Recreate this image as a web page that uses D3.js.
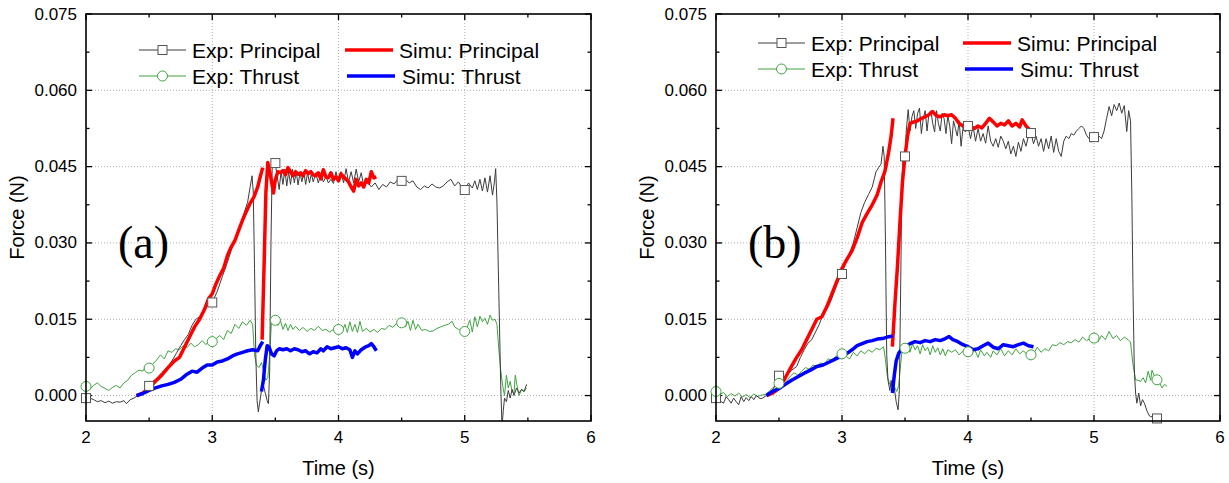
<!DOCTYPE html>
<html>
<head>
<meta charset="utf-8">
<script src="https://cdn.jsdelivr.net/npm/d3@7"></script>
<style>
  body { margin: 0; background: #fff; }
  svg { display: block; }
</style>
</head>
<body>
<svg id="chart" width="1229" height="483"></svg>
<script>
// axis ticks
var xTicks = [2, 3, 4, 5, 6];
var yTicks = [0.000, 0.015, 0.030, 0.045, 0.060, 0.075];
var seriesNames = ["Exp: Principal", "Exp: Thrust", "Simu: Principal", "Simu: Thrust"];

// panel (a): [time s, force N]
var expPrincipalA = [[2.00,-0.0003],[2.03,-0.0005],[2.06,-0.0008],[2.09,-0.0012],[2.12,-0.0010],[2.15,-0.0014],[2.18,-0.0011],[2.21,-0.0015],[2.24,-0.0012],[2.27,-0.0013],[2.30,-0.0010],[2.32,-0.0016],[2.35,-0.0008],[2.38,-0.0005],[2.41,0.0000],[2.44,0.0004],[2.47,0.0012],[2.50,0.0020],[2.53,0.0028],[2.56,0.0034],[2.60,0.0045],[2.63,0.0052],[2.66,0.0060],[2.69,0.0072],[2.72,0.0085],[2.75,0.0098],[2.78,0.0110],[2.81,0.0120],[2.84,0.0138],[2.87,0.0150],[2.90,0.0155],[2.93,0.0165],[2.96,0.0175],[3.00,0.0183],[3.04,0.0205],[3.08,0.0234],[3.12,0.0262],[3.16,0.0293],[3.20,0.0319],[3.23,0.0340],[3.26,0.0365],[3.28,0.0380],[3.30,0.0410],[3.315,0.0432],[3.325,0.0400],[3.335,0.0250],[3.345,0.0080],[3.355,-0.0010],[3.365,-0.0032],[3.375,-0.0015],[3.39,0.0010],[3.405,0.0020],[3.42,0.0005],[3.435,-0.0010],[3.445,-0.0016],[3.455,0.0050],[3.465,0.0300],[3.475,0.0455],[3.49,0.0460],[3.50,0.0455],[3.515,0.0430],[3.53,0.0405],[3.545,0.0440],[3.56,0.0415],[3.575,0.0445],[3.59,0.0412],[3.605,0.0440],[3.62,0.0415],[3.635,0.0445],[3.65,0.0418],[3.665,0.0440],[3.68,0.0414],[3.695,0.0438],[3.71,0.0420],[3.725,0.0440],[3.74,0.0415],[3.755,0.0438],[3.77,0.0418],[3.785,0.0436],[3.80,0.0420],[3.82,0.0438],[3.84,0.0418],[3.86,0.0435],[3.88,0.0420],[3.90,0.0430],[3.92,0.0418],[3.94,0.0425],[3.96,0.0417],[3.98,0.0440],[4.00,0.0420],[4.02,0.0440],[4.04,0.0418],[4.06,0.0446],[4.08,0.0420],[4.10,0.0440],[4.12,0.0418],[4.14,0.0445],[4.16,0.0420],[4.18,0.0438],[4.20,0.0412],[4.23,0.0420],[4.26,0.0410],[4.29,0.0418],[4.32,0.0405],[4.35,0.0415],[4.38,0.0410],[4.41,0.0420],[4.44,0.0416],[4.47,0.0425],[4.50,0.0422],[4.53,0.0425],[4.56,0.0418],[4.59,0.0422],[4.62,0.0410],[4.65,0.0405],[4.68,0.0412],[4.71,0.0408],[4.74,0.0416],[4.77,0.0410],[4.80,0.0408],[4.83,0.0412],[4.86,0.0420],[4.89,0.0425],[4.92,0.0412],[4.95,0.0420],[4.98,0.0408],[5.00,0.0404],[5.03,0.0418],[5.06,0.0408],[5.08,0.0422],[5.10,0.0405],[5.12,0.0425],[5.14,0.0402],[5.16,0.0428],[5.18,0.0400],[5.20,0.0432],[5.22,0.0394],[5.235,0.0420],[5.245,0.0446],[5.255,0.0380],[5.27,0.0200],[5.285,0.0020],[5.295,-0.0060],[5.305,-0.0030],[5.315,-0.0005],[5.33,-0.0012],[5.345,0.0010],[5.36,-0.0005],[5.375,0.0012],[5.39,0.0000],[5.41,0.0015],[5.43,0.0005],[5.45,0.0012],[5.47,0.0008],[5.49,0.0022]];
var expThrustA = [[2.00,0.0018],[2.03,0.0012],[2.06,0.0020],[2.09,0.0025],[2.12,0.0018],[2.15,0.0014],[2.18,0.0010],[2.21,0.0016],[2.24,0.0020],[2.27,0.0015],[2.30,0.0025],[2.33,0.0030],[2.36,0.0040],[2.39,0.0045],[2.42,0.0050],[2.45,0.0048],[2.48,0.0060],[2.50,0.0054],[2.53,0.0062],[2.56,0.0070],[2.59,0.0080],[2.62,0.0072],[2.65,0.0088],[2.68,0.0085],[2.71,0.0092],[2.74,0.0090],[2.77,0.0098],[2.80,0.0094],[2.83,0.0103],[2.86,0.0096],[2.89,0.0100],[2.92,0.0108],[2.95,0.0100],[2.98,0.0110],[3.00,0.0106],[3.03,0.0112],[3.06,0.0118],[3.09,0.0110],[3.12,0.0128],[3.15,0.0122],[3.18,0.0140],[3.21,0.0132],[3.24,0.0145],[3.27,0.0138],[3.30,0.0148],[3.32,0.0140],[3.335,0.0080],[3.35,0.0060],[3.37,0.0055],[3.39,0.0065],[3.41,0.0045],[3.425,0.0030],[3.44,0.0035],[3.455,0.0080],[3.47,0.0150],[3.49,0.0153],[3.50,0.0148],[3.52,0.0138],[3.54,0.0148],[3.56,0.0130],[3.58,0.0142],[3.60,0.0128],[3.62,0.0140],[3.64,0.0130],[3.66,0.0136],[3.69,0.0128],[3.72,0.0134],[3.75,0.0126],[3.78,0.0132],[3.81,0.0128],[3.84,0.0136],[3.87,0.0128],[3.90,0.0130],[3.93,0.0125],[3.96,0.0130],[4.00,0.0130],[4.03,0.0125],[4.05,0.0140],[4.07,0.0124],[4.09,0.0145],[4.11,0.0126],[4.13,0.0140],[4.15,0.0124],[4.17,0.0146],[4.19,0.0126],[4.22,0.0132],[4.25,0.0125],[4.28,0.0130],[4.31,0.0124],[4.34,0.0132],[4.37,0.0130],[4.40,0.0138],[4.43,0.0134],[4.46,0.0142],[4.50,0.0143],[4.53,0.0135],[4.55,0.0146],[4.57,0.0128],[4.59,0.0148],[4.61,0.0130],[4.63,0.0140],[4.66,0.0128],[4.69,0.0130],[4.72,0.0126],[4.75,0.0127],[4.78,0.0132],[4.81,0.0135],[4.84,0.0138],[4.87,0.0140],[4.90,0.0146],[4.92,0.0135],[4.95,0.0130],[4.98,0.0126],[5.00,0.0126],[5.02,0.0135],[5.04,0.0148],[5.06,0.0125],[5.08,0.0155],[5.10,0.0135],[5.12,0.0156],[5.14,0.0145],[5.16,0.0152],[5.18,0.0140],[5.20,0.0158],[5.22,0.0148],[5.24,0.0150],[5.255,0.0140],[5.27,0.0090],[5.285,0.0050],[5.30,0.0020],[5.315,0.0000],[5.33,0.0040],[5.345,0.0015],[5.36,0.0028],[5.375,0.0008],[5.39,0.0005],[5.40,0.0040],[5.415,0.0018],[5.43,0.0000],[5.45,0.0012],[5.47,0.0008],[5.49,0.0015]];
var simPrincipalA1 = [[2.40,0.0000],[2.45,0.0005],[2.50,0.0015],[2.55,0.0028],[2.60,0.0040],[2.65,0.0055],[2.70,0.0068],[2.74,0.0075],[2.78,0.0095],[2.82,0.0115],[2.86,0.0135],[2.90,0.0150],[2.94,0.0170],[2.97,0.0190],[3.00,0.0200],[3.03,0.0220],[3.06,0.0236],[3.09,0.0250],[3.12,0.0275],[3.15,0.0292],[3.18,0.0305],[3.21,0.0325],[3.24,0.0345],[3.27,0.0362],[3.30,0.0378],[3.33,0.0390],[3.36,0.0410],[3.38,0.0430],[3.40,0.0448]];
var simPrincipalA2 = [[3.395,0.0110],[3.41,0.0250],[3.425,0.0400],[3.44,0.0458],[3.455,0.0440],[3.47,0.0420],[3.485,0.0398],[3.50,0.0425],[3.52,0.0440],[3.54,0.0438],[3.56,0.0442],[3.58,0.0434],[3.60,0.0448],[3.62,0.0440],[3.64,0.0432],[3.66,0.0440],[3.68,0.0435],[3.70,0.0438],[3.72,0.0432],[3.74,0.0442],[3.76,0.0436],[3.78,0.0440],[3.80,0.0434],[3.82,0.0432],[3.84,0.0438],[3.86,0.0426],[3.88,0.0444],[3.90,0.0430],[3.92,0.0428],[3.94,0.0438],[3.96,0.0425],[3.98,0.0430],[4.00,0.0422],[4.02,0.0436],[4.04,0.0430],[4.06,0.0425],[4.08,0.0420],[4.10,0.0410],[4.12,0.0402],[4.14,0.0425],[4.16,0.0412],[4.18,0.0418],[4.20,0.0410],[4.22,0.0425],[4.24,0.0418],[4.26,0.0440],[4.28,0.0428],[4.30,0.0430]];
var simThrustA1 = [[2.40,0.0000],[2.45,0.0004],[2.50,0.0010],[2.55,0.0015],[2.60,0.0019],[2.65,0.0022],[2.70,0.0026],[2.75,0.0032],[2.80,0.0042],[2.84,0.0048],[2.88,0.0046],[2.92,0.0054],[2.96,0.0060],[3.00,0.0060],[3.04,0.0066],[3.08,0.0068],[3.12,0.0072],[3.16,0.0078],[3.20,0.0082],[3.24,0.0085],[3.28,0.0088],[3.32,0.0090],[3.36,0.0088],[3.38,0.0098],[3.40,0.0106]];
var simThrustA2 = [[3.39,0.0008],[3.405,0.0030],[3.42,0.0070],[3.435,0.0098],[3.45,0.0095],[3.47,0.0082],[3.49,0.0078],[3.51,0.0088],[3.53,0.0092],[3.56,0.0090],[3.59,0.0092],[3.62,0.0088],[3.65,0.0092],[3.68,0.0090],[3.71,0.0086],[3.74,0.0088],[3.77,0.0082],[3.80,0.0086],[3.83,0.0084],[3.86,0.0092],[3.88,0.0088],[3.91,0.0096],[3.94,0.0092],[3.97,0.0094],[4.00,0.0096],[4.03,0.0092],[4.06,0.0094],[4.09,0.0090],[4.11,0.0075],[4.13,0.0088],[4.15,0.0082],[4.18,0.0090],[4.21,0.0095],[4.24,0.0098],[4.26,0.0102],[4.28,0.0096],[4.30,0.0088]];
var squaresA = [[2.0,-0.0005],[2.5,0.0019],[3.0,0.0183],[3.5,0.0457],[4.5,0.0422],[5.0,0.0404]];
var circlesA = [[2.0,0.0018],[2.5,0.0054],[3.0,0.0106],[3.5,0.0148],[4.0,0.0130],[4.5,0.0143],[5.0,0.0126]];

// panel (b)
var expPrincipalB = [[2.00,-0.0005],[2.03,-0.0010],[2.06,-0.0015],[2.08,-0.0002],[2.10,-0.0008],[2.12,-0.0015],[2.14,-0.0005],[2.16,-0.0012],[2.18,-0.0018],[2.20,-0.0002],[2.22,-0.0012],[2.24,-0.0004],[2.26,-0.0010],[2.28,-0.0002],[2.30,-0.0008],[2.32,0.0000],[2.35,-0.0006],[2.37,-0.0005],[2.40,0.0000],[2.43,0.0008],[2.46,0.0015],[2.50,0.0039],[2.53,0.0035],[2.56,0.0040],[2.60,0.0050],[2.64,0.0057],[2.67,0.0075],[2.70,0.0090],[2.73,0.0103],[2.76,0.0110],[2.79,0.0125],[2.82,0.0140],[2.85,0.0160],[2.88,0.0170],[2.91,0.0185],[2.94,0.0205],[2.97,0.0225],[3.00,0.0239],[3.03,0.0262],[3.06,0.0280],[3.09,0.0300],[3.12,0.0330],[3.15,0.0360],[3.18,0.0380],[3.21,0.0395],[3.24,0.0410],[3.27,0.0440],[3.29,0.0448],[3.31,0.0455],[3.325,0.0490],[3.335,0.0470],[3.345,0.0300],[3.355,0.0080],[3.365,0.0030],[3.38,0.0010],[3.39,0.0030],[3.40,0.0012],[3.415,0.0015],[3.43,-0.0012],[3.445,-0.0028],[3.455,0.0010],[3.465,0.0200],[3.475,0.0420],[3.485,0.0470],[3.50,0.0470],[3.51,0.0520],[3.525,0.0562],[3.54,0.0520],[3.555,0.0548],[3.57,0.0560],[3.585,0.0525],[3.60,0.0555],[3.615,0.0565],[3.63,0.0515],[3.645,0.0545],[3.66,0.0560],[3.675,0.0520],[3.69,0.0555],[3.705,0.0560],[3.72,0.0535],[3.735,0.0518],[3.75,0.0560],[3.765,0.0535],[3.78,0.0520],[3.795,0.0555],[3.81,0.0545],[3.825,0.0515],[3.84,0.0550],[3.855,0.0530],[3.87,0.0495],[3.885,0.0540],[3.90,0.0525],[3.915,0.0510],[3.93,0.0540],[3.945,0.0490],[3.96,0.0525],[3.98,0.0518],[4.00,0.0530],[4.02,0.0505],[4.04,0.0530],[4.06,0.0500],[4.08,0.0525],[4.10,0.0500],[4.12,0.0515],[4.14,0.0496],[4.16,0.0530],[4.18,0.0500],[4.20,0.0490],[4.22,0.0505],[4.24,0.0488],[4.26,0.0510],[4.28,0.0500],[4.30,0.0485],[4.32,0.0500],[4.34,0.0475],[4.36,0.0490],[4.38,0.0470],[4.40,0.0498],[4.42,0.0480],[4.44,0.0505],[4.46,0.0490],[4.48,0.0510],[4.50,0.0516],[4.52,0.0495],[4.54,0.0510],[4.56,0.0490],[4.58,0.0505],[4.60,0.0480],[4.62,0.0505],[4.64,0.0485],[4.66,0.0510],[4.68,0.0478],[4.70,0.0505],[4.72,0.0480],[4.74,0.0470],[4.76,0.0500],[4.78,0.0510],[4.80,0.0505],[4.82,0.0515],[4.84,0.0512],[4.86,0.0520],[4.88,0.0525],[4.90,0.0530],[4.92,0.0525],[4.94,0.0512],[4.96,0.0505],[4.98,0.0498],[5.00,0.0508],[5.02,0.0500],[5.04,0.0510],[5.06,0.0505],[5.08,0.0520],[5.10,0.0545],[5.12,0.0568],[5.14,0.0550],[5.16,0.0572],[5.18,0.0560],[5.20,0.0575],[5.22,0.0555],[5.24,0.0570],[5.26,0.0519],[5.275,0.0560],[5.29,0.0540],[5.30,0.0400],[5.31,0.0200],[5.32,0.0050],[5.33,0.0005],[5.34,-0.0015],[5.355,0.0005],[5.37,-0.0020],[5.385,-0.0008],[5.40,-0.0015],[5.42,-0.0030],[5.44,-0.0040],[5.46,-0.0042],[5.48,-0.0048],[5.50,-0.0052],[5.52,-0.0060]];
var expThrustB = [[2.00,0.0008],[2.03,0.0002],[2.06,0.0006],[2.09,-0.0002],[2.12,0.0004],[2.15,-0.0001],[2.18,0.0005],[2.21,-0.0003],[2.24,0.0002],[2.27,-0.0004],[2.30,0.0003],[2.33,-0.0002],[2.36,0.0001],[2.39,0.0002],[2.42,0.0008],[2.45,0.0015],[2.48,0.0022],[2.50,0.0024],[2.53,0.0030],[2.56,0.0028],[2.59,0.0038],[2.62,0.0045],[2.65,0.0040],[2.68,0.0048],[2.71,0.0055],[2.74,0.0052],[2.77,0.0060],[2.80,0.0058],[2.83,0.0064],[2.86,0.0062],[2.89,0.0072],[2.92,0.0070],[2.95,0.0077],[3.00,0.0082],[3.03,0.0078],[3.06,0.0072],[3.09,0.0085],[3.12,0.0078],[3.15,0.0088],[3.18,0.0082],[3.21,0.0090],[3.24,0.0085],[3.27,0.0093],[3.30,0.0090],[3.33,0.0096],[3.345,0.0070],[3.36,0.0037],[3.375,0.0025],[3.39,0.0018],[3.405,0.0028],[3.42,0.0015],[3.435,0.0008],[3.45,0.0020],[3.465,0.0060],[3.48,0.0096],[3.50,0.0093],[3.52,0.0100],[3.54,0.0085],[3.56,0.0102],[3.58,0.0090],[3.60,0.0098],[3.62,0.0082],[3.64,0.0100],[3.66,0.0088],[3.68,0.0095],[3.70,0.0080],[3.72,0.0098],[3.74,0.0085],[3.76,0.0094],[3.78,0.0080],[3.80,0.0092],[3.82,0.0078],[3.84,0.0090],[3.87,0.0085],[3.90,0.0090],[3.93,0.0080],[3.96,0.0088],[4.00,0.0086],[4.03,0.0080],[4.05,0.0092],[4.08,0.0075],[4.10,0.0090],[4.13,0.0078],[4.15,0.0085],[4.18,0.0075],[4.20,0.0088],[4.23,0.0080],[4.26,0.0092],[4.29,0.0078],[4.32,0.0088],[4.35,0.0080],[4.38,0.0092],[4.41,0.0082],[4.44,0.0088],[4.47,0.0080],[4.50,0.0080],[4.53,0.0086],[4.55,0.0095],[4.58,0.0085],[4.61,0.0092],[4.64,0.0088],[4.67,0.0100],[4.70,0.0098],[4.73,0.0104],[4.76,0.0100],[4.79,0.0106],[4.82,0.0104],[4.85,0.0110],[4.88,0.0105],[4.91,0.0115],[4.94,0.0108],[4.97,0.0112],[5.00,0.0113],[5.03,0.0105],[5.06,0.0118],[5.09,0.0110],[5.12,0.0126],[5.15,0.0112],[5.18,0.0118],[5.21,0.0108],[5.24,0.0115],[5.27,0.0110],[5.29,0.0105],[5.31,0.0060],[5.33,0.0031],[5.35,0.0030],[5.37,0.0028],[5.39,0.0035],[5.41,0.0025],[5.43,0.0048],[5.45,0.0030],[5.46,0.0050],[5.48,0.0038],[5.50,0.0031],[5.52,0.0025],[5.54,0.0015],[5.56,0.0022],[5.58,0.0018]];
var simPrincipalB1 = [[2.40,0.0000],[2.45,0.0005],[2.50,0.0014],[2.55,0.0035],[2.60,0.0058],[2.64,0.0075],[2.68,0.0090],[2.72,0.0110],[2.76,0.0130],[2.80,0.0150],[2.84,0.0155],[2.88,0.0175],[2.92,0.0200],[2.96,0.0225],[3.00,0.0250],[3.04,0.0268],[3.08,0.0285],[3.12,0.0310],[3.16,0.0340],[3.20,0.0358],[3.24,0.0375],[3.28,0.0395],[3.31,0.0420],[3.34,0.0440],[3.37,0.0478],[3.39,0.0510],[3.405,0.0545]];
var simPrincipalB2 = [[3.40,0.0096],[3.42,0.0180],[3.44,0.0253],[3.46,0.0340],[3.48,0.0420],[3.50,0.0470],[3.52,0.0510],[3.54,0.0535],[3.57,0.0538],[3.60,0.0540],[3.63,0.0545],[3.66,0.0548],[3.69,0.0552],[3.72,0.0558],[3.75,0.0550],[3.78,0.0548],[3.81,0.0552],[3.84,0.0550],[3.87,0.0552],[3.90,0.0545],[3.93,0.0535],[3.96,0.0530],[3.99,0.0525],[4.02,0.0528],[4.05,0.0525],[4.08,0.0530],[4.11,0.0526],[4.14,0.0535],[4.17,0.0545],[4.20,0.0538],[4.23,0.0530],[4.26,0.0535],[4.29,0.0532],[4.32,0.0540],[4.35,0.0530],[4.38,0.0535],[4.41,0.0528],[4.43,0.0542],[4.46,0.0530],[4.49,0.0522],[4.52,0.0516]];
var simThrustB1 = [[2.40,0.0000],[2.45,0.0008],[2.50,0.0014],[2.55,0.0022],[2.60,0.0030],[2.65,0.0037],[2.70,0.0044],[2.75,0.0050],[2.80,0.0057],[2.85,0.0060],[2.90,0.0066],[2.95,0.0072],[3.00,0.0078],[3.04,0.0083],[3.08,0.0090],[3.12,0.0098],[3.16,0.0102],[3.20,0.0106],[3.24,0.0108],[3.28,0.0111],[3.32,0.0112],[3.36,0.0115],[3.405,0.0117]];
var simThrustB2 = [[3.40,0.0005],[3.415,0.0040],[3.43,0.0068],[3.45,0.0083],[3.475,0.0092],[3.50,0.0096],[3.54,0.0102],[3.58,0.0106],[3.62,0.0104],[3.66,0.0108],[3.70,0.0106],[3.74,0.0110],[3.78,0.0108],[3.82,0.0112],[3.85,0.0116],[3.88,0.0110],[3.92,0.0106],[3.96,0.0100],[4.00,0.0096],[4.04,0.0090],[4.08,0.0092],[4.12,0.0098],[4.16,0.0103],[4.20,0.0095],[4.24,0.0092],[4.28,0.0100],[4.32,0.0098],[4.36,0.0096],[4.40,0.0100],[4.44,0.0103],[4.48,0.0098],[4.52,0.0096]];
var squaresB = [[2.0,-0.0005],[2.5,0.0039],[3.0,0.0239],[3.5,0.0470],[4.0,0.0530],[4.5,0.0516],[5.0,0.0508],[5.5,-0.0045]];
var circlesB = [[2.0,0.0008],[2.5,0.0024],[3.0,0.0082],[3.5,0.0093],[4.0,0.0086],[4.5,0.0080],[5.0,0.0113],[5.5,0.0031]];

var colors = {expP: "#3c3c3c", expT: "#3fa33f", simP: "#ff0000", simT: "#0000ff"};

var svg = d3.select("#chart");
var font = "Liberation Sans, Arial, sans-serif";

function drawPanel(p) {
    var x = d3.scaleLinear().domain([2, 6]).range([p.left, p.right]);
    var y = d3.scaleLinear().domain([-0.005, 0.075]).range([p.bottom, p.top]);
    var g = svg.append("g");

    var clipId = "clip" + p.id;
    svg.append("clipPath").attr("id", clipId).append("rect")
        .attr("x", p.left).attr("y", p.top)
        .attr("width", p.right - p.left).attr("height", p.bottom - p.top);

    // grid
    g.selectAll(".gx").data(xTicks.slice(1, -1)).enter().append("line")
        .attr("x1", function(d) { return x(d); }).attr("x2", function(d) { return x(d); })
        .attr("y1", p.top).attr("y2", p.bottom)
        .attr("stroke", "#b0b0b0").attr("stroke-width", 1).attr("stroke-dasharray", "1,2");
    g.selectAll(".gy").data(yTicks.slice(0, -1)).enter().append("line")
        .attr("y1", function(d) { return y(d); }).attr("y2", function(d) { return y(d); })
        .attr("x1", p.left).attr("x2", p.right)
        .attr("stroke", "#b0b0b0").attr("stroke-width", 1).attr("stroke-dasharray", "1,2");

    // ticks, pointing inward on all four sides
    var xMinor = d3.range(2.5, 6, 1);
    var yMinor = d3.range(0.0075, 0.075, 0.015);
    var tk = g.append("g").attr("stroke", "#000").attr("stroke-width", 1.3);
    function xt(vals, len) {
        vals.forEach(function(d) {
            tk.append("line").attr("x1", x(d)).attr("x2", x(d)).attr("y1", p.bottom).attr("y2", p.bottom - len);
            tk.append("line").attr("x1", x(d)).attr("x2", x(d)).attr("y1", p.top).attr("y2", p.top + len);
        });
    }
    function yt(vals, len) {
        vals.forEach(function(d) {
            tk.append("line").attr("y1", y(d)).attr("y2", y(d)).attr("x1", p.left).attr("x2", p.left + len);
            tk.append("line").attr("y1", y(d)).attr("y2", y(d)).attr("x1", p.right).attr("x2", p.right - len);
        });
    }
    xt(xTicks, 6); xt(xMinor, 3.5);
    yt(yTicks, 6); yt(yMinor, 3.5);

    // tick labels
    g.selectAll(".xl").data(xTicks).enter().append("text")
        .attr("x", function(d) { return x(d); }).attr("y", p.bottom + 16)
        .attr("text-anchor", "middle").attr("dominant-baseline", "central")
        .attr("font-family", font).attr("font-size", 17).text(function(d) { return d; });
    g.selectAll(".yl").data(yTicks).enter().append("text")
        .attr("x", p.left - 9).attr("y", function(d) { return y(d); })
        .attr("text-anchor", "end").attr("dominant-baseline", "central")
        .attr("font-family", font).attr("font-size", 17).text(d3.format(".3f"));

    // axis titles
    g.append("text").attr("x", (p.left + p.right) / 2).attr("y", p.bottom + 47)
        .attr("text-anchor", "middle").attr("dominant-baseline", "central")
        .attr("font-family", font).attr("font-size", 20).text("Time (s)");
    g.append("text").attr("transform", "translate(" + (p.left - 69) + "," + ((p.top + p.bottom) / 2) + ") rotate(-90)")
        .attr("text-anchor", "middle").attr("dominant-baseline", "central")
        .attr("font-family", font).attr("font-size", 20).text("Force (N)");

    // data lines
    var line = d3.line().x(function(d) { return x(d[0]); }).y(function(d) { return y(d[1]); });
    var lines = g.append("g").attr("clip-path", "url(#" + clipId + ")");
    lines.append("path").datum(p.expT).attr("d", line).attr("fill", "none")
        .attr("stroke", colors.expT).attr("stroke-width", 1);
    lines.append("path").datum(p.expP).attr("d", line).attr("fill", "none")
        .attr("stroke", colors.expP).attr("stroke-width", 1);
    p.simP.forEach(function(seg) {
        lines.append("path").datum(seg).attr("d", line).attr("fill", "none")
            .attr("stroke", colors.simP).attr("stroke-width", 3.5).attr("stroke-linejoin", "round");
    });
    p.simT.forEach(function(seg) {
        lines.append("path").datum(seg).attr("d", line).attr("fill", "none")
            .attr("stroke", colors.simT).attr("stroke-width", 3.5).attr("stroke-linejoin", "round");
    });

    // markers
    g.selectAll(".sq").data(p.squares).enter().append("rect")
        .attr("x", function(d) { return x(d[0]) - 4.5; }).attr("y", function(d) { return y(d[1]) - 4.5; })
        .attr("width", 9).attr("height", 9)
        .attr("fill", "#fff").attr("stroke", "#555").attr("stroke-width", 1);
    g.selectAll(".ci").data(p.circles).enter().append("circle")
        .attr("cx", function(d) { return x(d[0]); }).attr("cy", function(d) { return y(d[1]); })
        .attr("r", 5).attr("fill", "#fff").attr("stroke", colors.expT).attr("stroke-width", 1);

    // frame
    g.append("rect").attr("x", p.left).attr("y", p.top)
        .attr("width", p.right - p.left).attr("height", p.bottom - p.top)
        .attr("fill", "none").attr("stroke", "#000").attr("stroke-width", 1.6);

    // legend
    var L = p.legend;
    var lg = g.append("g").attr("font-family", font).attr("font-size", 21);
    lg.append("line").attr("x1", L.x0).attr("x2", L.x0 + 47).attr("y1", L.y1).attr("y2", L.y1)
        .attr("stroke", colors.expP).attr("stroke-width", 1);
    lg.append("rect").attr("x", L.x0 + 19).attr("y", L.y1 - 4.5).attr("width", 9).attr("height", 9)
        .attr("fill", "#fff").attr("stroke", "#555");
    lg.append("line").attr("x1", L.x0).attr("x2", L.x0 + 47).attr("y1", L.y2).attr("y2", L.y2)
        .attr("stroke", colors.expT).attr("stroke-width", 1);
    lg.append("circle").attr("cx", L.x0 + 23.5).attr("cy", L.y2).attr("r", 5)
        .attr("fill", "#fff").attr("stroke", colors.expT);
    lg.append("text").attr("x", L.x0 + 53).attr("y", L.y1).attr("dominant-baseline", "central").text(seriesNames[0]);
    lg.append("text").attr("x", L.x0 + 53).attr("y", L.y2).attr("dominant-baseline", "central").text(seriesNames[1]);
    lg.append("line").attr("x1", L.x1).attr("x2", L.x1 + 48).attr("y1", L.y1).attr("y2", L.y1)
        .attr("stroke", colors.simP).attr("stroke-width", 3.5);
    lg.append("line").attr("x1", L.x1 + 2).attr("x2", L.x1 + 50).attr("y1", L.y2).attr("y2", L.y2)
        .attr("stroke", colors.simT).attr("stroke-width", 3.5);
    lg.append("text").attr("x", L.x1 + 54).attr("y", L.y1).attr("dominant-baseline", "central").text(seriesNames[2]);
    lg.append("text").attr("x", L.x1 + 57).attr("y", L.y2).attr("dominant-baseline", "central").text(seriesNames[3]);

    // panel label
    g.append("text").attr("x", p.labelX).attr("y", p.labelY)
        .attr("font-family", "Liberation Serif, Times New Roman, serif").attr("font-size", 46)
        .text(p.label);
}

drawPanel({
    id: "a", left: 86, right: 591, top: 14, bottom: 421,
    expP: expPrincipalA, expT: expThrustA,
    simP: [simPrincipalA1, simPrincipalA2], simT: [simThrustA1, simThrustA2],
    squares: squaresA, circles: circlesA,
    legend: {x0: 139, x1: 345, y1: 50, y2: 76},
    label: "(a)", labelX: 118, labelY: 258
});
drawPanel({
    id: "b", left: 716, right: 1220, top: 14, bottom: 421,
    expP: expPrincipalB, expT: expThrustB,
    simP: [simPrincipalB1, simPrincipalB2], simT: [simThrustB1, simThrustB2],
    squares: squaresB, circles: circlesB,
    legend: {x0: 758, x1: 963, y1: 43, y2: 69},
    label: "(b)", labelX: 748, labelY: 258
});
</script>
</body>
</html>
